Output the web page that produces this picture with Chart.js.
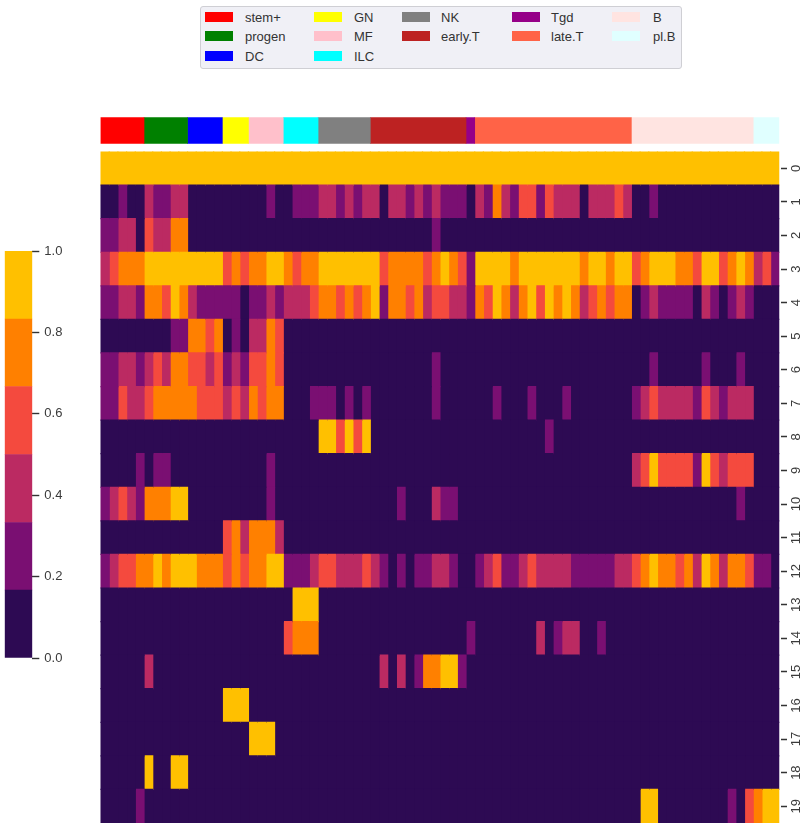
<!DOCTYPE html>
<html>
<head>
<meta charset="utf-8">
<title>heatmap</title>
<script src="https://cdn.jsdelivr.net/npm/chart.js@4"></script>
<style>
  html, body { margin: 0; padding: 0; background: #fff; }
  body { position: relative; width: 809px; height: 829px; overflow: hidden; font-family: "Liberation Sans", Arial, sans-serif; }
  canvas { position: absolute; }
  #legend { position: absolute; left: 200px; top: 6px; width: 482px; height: 63px; background: #f0f0f6; border: 1px solid #cfcfd4; border-radius: 3px; box-sizing: border-box; }
  .swatch { position: absolute; width: 28px; height: 10px; }
  .label { position: absolute; font-size: 13px; line-height: 15px; color: #333; white-space: nowrap; }
</style>
</head>
<body>
<div id="legend"></div>
<canvas id="annot" width="709" height="40" style="left:100px;top:110px"></canvas>
<canvas id="heat" width="709" height="719" style="left:100px;top:130px"></canvas>
<canvas id="cbar" width="90" height="460" style="left:0;top:225px"></canvas>

<script>
// cell types along the top strip, number of columns in each
const groupNames = ["stem+", "progen", "DC", "GN", "MF", "ILC", "NK", "early.T", "Tgd", "late.T", "B", "pl.B"];
const groupSizes = [5, 5, 4, 3, 4, 4, 6, 11, 1, 18, 14, 3];
const groupColors = ["#ff0000", "#008000", "#0000ff", "#ffff00", "#ffc0cb", "#00ffff", "#808080", "#bd2222", "#960088", "#ff6347", "#ffe4e1", "#e0ffff"];

// colorbar: six discrete bands
const bandColors = ["#2d0a53", "#7a0f72", "#bb2a62", "#f44a3e", "#ff8000", "#ffc000"];
const bandEdges = [0, 0.167, 0.333, 0.5, 0.667, 0.833, 1];

const rowLabels = ["0", "1", "2", "3", "4", "5", "6", "7", "8", "9", "10", "11", "12", "13", "14", "15", "16", "17", "18", "19"];

// each row: the colorbar band (0-5) for each of the 78 columns
const row0 = [5,5,5,5,5,5,5,5,5,5, 5,5,5,5,5,5,5,5,5,5, 5,5,5,5,5,5,5,5,5,5, 5,5,5,5,5,5,5,5,5,5, 5,5,5,5,5,5,5,5,5,5, 5,5,5,5,5,5,5,5,5,5, 5,5,5,5,5,5,5,5,5,5, 5,5,5,5,5,5,5,5];
const row1 = [0,0,1,0,0,2,1,1,2,2, 0,0,0,0,0,0,0,0,0,1, 0,0,1,1,1,2,2,1,2,1, 2,2,0,2,2,1,2,1,2,1, 1,1,0,2,1,4,2,1,3,3, 1,3,2,2,2,0,2,2,2,3, 2,0,0,1,0,0,0,0,0,0, 0,0,0,0,0,0,0,0];
const row2 = [1,1,2,2,0,3,2,2,4,4, 0,0,0,0,0,0,0,0,0,0, 0,0,0,0,0,0,0,0,0,0, 0,0,0,0,0,0,0,0,1,0, 0,0,0,0,0,0,0,0,0,0, 0,0,0,0,0,0,0,0,0,0, 0,0,0,0,0,0,0,0,0,0, 0,0,0,0,0,0,0,0];
const row3 = [2,3,4,4,4,5,5,5,5,5, 5,5,5,5,3,4,3,4,4,5, 5,4,3,4,4,5,5,5,5,5, 5,5,3,4,4,4,4,3,4,5, 4,3,1,5,5,5,5,4,5,5, 5,5,5,5,5,4,5,5,4,5, 5,3,4,5,5,5,4,4,3,5, 5,3,4,5,4,2,3,1];
const row4 = [1,1,2,2,1,4,4,3,5,4, 2,1,1,1,1,1,0,1,1,2, 1,2,2,2,3,4,4,3,4,3, 4,5,1,4,4,3,4,2,3,3, 2,2,1,4,3,5,4,2,4,5, 3,5,4,5,4,2,3,4,3,4, 4,0,1,2,1,1,1,1,0,2, 1,0,1,2,1,0,0,0];
const row5 = [0,0,0,0,0,0,0,0,1,1, 4,4,3,4,0,1,0,2,2,4, 3,0,0,0,0,0,0,0,0,0, 0,0,0,0,0,0,0,0,0,0, 0,0,0,0,0,0,0,0,0,0, 0,0,0,0,0,0,0,0,0,0, 0,0,0,0,0,0,0,0,0,0, 0,0,0,0,0,0,0,0];
const row6 = [1,1,2,2,1,2,3,2,4,4, 3,3,2,3,1,2,1,3,3,4, 3,0,0,0,0,0,0,0,0,0, 0,0,0,0,0,0,0,0,1,0, 0,0,0,0,0,0,0,0,0,0, 0,0,0,0,0,0,0,0,0,0, 0,0,0,1,0,0,0,0,0,1, 0,0,0,1,0,0,0,0];
const row7 = [1,1,3,2,2,3,4,4,4,4, 4,3,3,3,2,3,2,4,3,4, 4,0,0,0,1,1,1,0,1,0, 1,0,0,0,0,0,0,0,1,0, 0,0,0,0,0,1,0,0,0,1, 0,0,0,1,0,0,0,0,0,0, 0,1,2,3,2,2,2,2,1,3, 2,1,2,2,2,0,0,0];
const row8 = [0,0,0,0,0,0,0,0,0,0, 0,0,0,0,0,0,0,0,0,0, 0,0,0,0,0,5,5,3,5,3, 5,0,0,0,0,0,0,0,0,0, 0,0,0,0,0,0,0,0,0,0, 0,1,0,0,0,0,0,0,0,0, 0,0,0,0,0,0,0,0,0,0, 0,0,0,0,0,0,0,0];
const row9 = [0,0,0,0,1,0,1,1,0,0, 0,0,0,0,0,0,0,0,0,1, 0,0,0,0,0,0,0,0,0,0, 0,0,0,0,0,0,0,0,0,0, 0,0,0,0,0,0,0,0,0,0, 0,0,0,0,0,0,0,0,0,0, 0,2,3,5,3,3,3,3,1,5, 3,2,3,3,3,0,0,0];
const row10 = [1,2,3,2,1,4,4,4,5,5, 0,0,0,0,0,0,0,0,0,1, 0,0,0,0,0,0,0,0,0,0, 0,0,0,0,1,0,0,0,2,1, 1,0,0,0,0,0,0,0,0,0, 0,0,0,0,0,0,0,0,0,0, 0,0,0,0,0,0,0,0,0,0, 0,0,0,1,0,0,0,0];
const row11 = [0,0,0,0,0,0,0,0,0,0, 0,0,0,0,3,4,2,4,4,4, 2,0,0,0,0,0,0,0,0,0, 0,0,0,0,0,0,0,0,0,0, 0,0,0,0,0,0,0,0,0,0, 0,0,0,0,0,0,0,0,0,0, 0,0,0,0,0,0,0,0,0,0, 0,0,0,0,0,0,0,0];
const row12 = [1,2,3,3,4,4,5,4,5,5, 5,4,4,4,3,4,3,4,4,5, 5,1,1,1,2,3,3,2,2,2, 3,2,1,0,1,0,1,1,2,2, 1,0,0,1,2,3,1,1,2,3, 2,2,2,2,1,1,1,1,1,2, 2,3,4,5,4,4,3,4,2,5, 4,2,4,4,3,1,1,0];
const row13 = [0,0,0,0,0,0,0,0,0,0, 0,0,0,0,0,0,0,0,0,0, 0,0,5,5,5,0,0,0,0,0, 0,0,0,0,0,0,0,0,0,0, 0,0,0,0,0,0,0,0,0,0, 0,0,0,0,0,0,0,0,0,0, 0,0,0,0,0,0,0,0,0,0, 0,0,0,0,0,0,0,0];
const row14 = [0,0,0,0,0,0,0,0,0,0, 0,0,0,0,0,0,0,0,0,0, 0,3,4,4,4,0,0,0,0,0, 0,0,0,0,0,0,0,0,0,0, 0,0,1,0,0,0,0,0,0,0, 2,0,1,2,2,0,0,1,0,0, 0,0,0,0,0,0,0,0,0,0, 0,0,0,0,0,0,0,0];
const row15 = [0,0,0,0,0,2,0,0,0,0, 0,0,0,0,0,0,0,0,0,0, 0,0,0,0,0,0,0,0,0,0, 0,0,2,0,2,0,1,4,4,5, 5,1,0,0,0,0,0,0,0,0, 0,0,0,0,0,0,0,0,0,0, 0,0,0,0,0,0,0,0,0,0, 0,0,0,0,0,0,0,0];
const row16 = [0,0,0,0,0,0,0,0,0,0, 0,0,0,0,5,5,5,0,0,0, 0,0,0,0,0,0,0,0,0,0, 0,0,0,0,0,0,0,0,0,0, 0,0,0,0,0,0,0,0,0,0, 0,0,0,0,0,0,0,0,0,0, 0,0,0,0,0,0,0,0,0,0, 0,0,0,0,0,0,0,0];
const row17 = [0,0,0,0,0,0,0,0,0,0, 0,0,0,0,0,0,0,5,5,5, 0,0,0,0,0,0,0,0,0,0, 0,0,0,0,0,0,0,0,0,0, 0,0,0,0,0,0,0,0,0,0, 0,0,0,0,0,0,0,0,0,0, 0,0,0,0,0,0,0,0,0,0, 0,0,0,0,0,0,0,0];
const row18 = [0,0,0,0,0,5,0,0,5,5, 0,0,0,0,0,0,0,0,0,0, 0,0,0,0,0,0,0,0,0,0, 0,0,0,0,0,0,0,0,0,0, 0,0,0,0,0,0,0,0,0,0, 0,0,0,0,0,0,0,0,0,0, 0,0,0,0,0,0,0,0,0,0, 0,0,0,0,0,0,0,0];
const row19 = [0,0,0,0,1,0,0,0,0,0, 0,0,0,0,0,0,0,0,0,0, 0,0,0,0,0,0,0,0,0,0, 0,0,0,0,0,0,0,0,0,0, 0,0,0,0,0,0,0,0,0,0, 0,0,0,0,0,0,0,0,0,0, 0,0,5,5,0,0,0,0,0,0, 0,0,1,0,3,4,5,5];

const rows = [row0, row1, row2, row3, row4, row5, row6, row7, row8, row9, row10, row11, row12, row13, row14, row15, row16, row17, row18, row19];

const tickFont = { family: "Liberation Sans", size: 13 };
const tickColor = "#3a3a3a";
Chart.defaults.animation = false;
Chart.defaults.responsive = false;
Chart.defaults.plugins.legend.display = false;
Chart.defaults.plugins.tooltip.enabled = false;

// legend, filled column by column like the original
const legendCols = [
  { swatch: 4, text: 44, items: [0, 1, 2] },
  { swatch: 113, text: 153, items: [3, 4, 5] },
  { swatch: 201, text: 240, items: [6, 7] },
  { swatch: 311, text: 350, items: [8, 9] },
  { swatch: 411, text: 452, items: [10, 11] }
];
const legendRowY = [5, 24, 44];
const legend = document.getElementById("legend");
legendCols.forEach(col => {
  col.items.forEach((g, i) => {
    const sw = document.createElement("div");
    sw.className = "swatch";
    sw.style.left = col.swatch + "px";
    sw.style.top = legendRowY[i] + "px";
    sw.style.background = groupColors[g];
    legend.appendChild(sw);
    const lb = document.createElement("div");
    lb.className = "label";
    lb.style.left = col.text + "px";
    lb.style.top = (legendRowY[i] - 2) + "px";
    lb.textContent = groupNames[g];
    legend.appendChild(lb);
  });
});

// top colour strip
new Chart(document.getElementById("annot"), {
  type: "bar",
  data: {
    labels: ["type"],
    datasets: groupNames.map((name, i) => ({
      label: name,
      data: [groupSizes[i]],
      backgroundColor: groupColors[i],
      borderWidth: 0,
      barPercentage: 1,
      categoryPercentage: 1
    }))
  },
  options: {
    indexAxis: "y",
    layout: { padding: { left: 0.5, right: 29.7, top: 7.3, bottom: 6.3 } },
    scales: {
      x: { display: false, stacked: true, min: 0, max: 78 },
      y: { display: false, stacked: true }
    }
  }
});

// heatmap: one dataset per column, a floating bar for each row
// inflateAmount overlaps the neighbours enough that no seams show
const columns = row0.map((_, c) => c);
new Chart(document.getElementById("heat"), {
  type: "bar",
  data: {
    labels: rowLabels,
    datasets: columns.map(c => ({
      label: "col " + c,
      data: rows.map(() => [c, c + 1]),
      backgroundColor: rows.map(r => bandColors[r[c]]),
      borderWidth: 0,
      inflateAmount: 0.6,
      grouped: false,
      barPercentage: 1,
      categoryPercentage: 1
    }))
  },
  options: {
    indexAxis: "y",
    layout: { padding: { left: 0.5, top: 21.5, bottom: 26 } },
    scales: {
      x: { type: "linear", display: false, min: 0, max: 78 },
      y: {
        type: "category",
        position: "right",
        offset: true,
        afterFit(scale) { scale.width = 29.7; },
        border: { display: false },
        grid: {
          offset: false,
          drawOnChartArea: false,
          tickLength: 8,
          tickWidth: 1.4,
          tickColor: "#333",
          tickBorderDash: [0, 2, 6, 10]
        },
        ticks: {
          autoSkip: false,
          minRotation: 90,
          maxRotation: 90,
          crossAlign: "center",
          padding: 2,
          color: tickColor,
          font: tickFont
        }
      }
    }
  }
});

// colorbar
const bandLabels = ["scale"];
new Chart(document.getElementById("cbar"), {
  type: "bar",
  data: {
    labels: bandLabels,
    datasets: bandColors.map((color, i) => ({
      label: "band " + i,
      data: [[bandEdges[i], bandEdges[i + 1]]],
      backgroundColor: color,
      borderWidth: 0,
      grouped: false,
      barPercentage: 1,
      categoryPercentage: 1
    }))
  },
  options: {
    layout: { padding: { left: 4.7, top: 26, bottom: 27 } },
    scales: {
      x: { display: false },
      y: {
        position: "right",
        min: 0,
        max: 1,
        afterFit(scale) { scale.width = 57.7; },
        border: { display: false },
        grid: { drawOnChartArea: false, tickLength: 7, tickWidth: 1.4, tickColor: "#333" },
        ticks: {
          stepSize: 0.2,
          padding: 5,
          color: tickColor,
          font: tickFont,
          callback: v => v.toFixed(1)
        }
      }
    }
  }
});
</script>
</body>
</html>
